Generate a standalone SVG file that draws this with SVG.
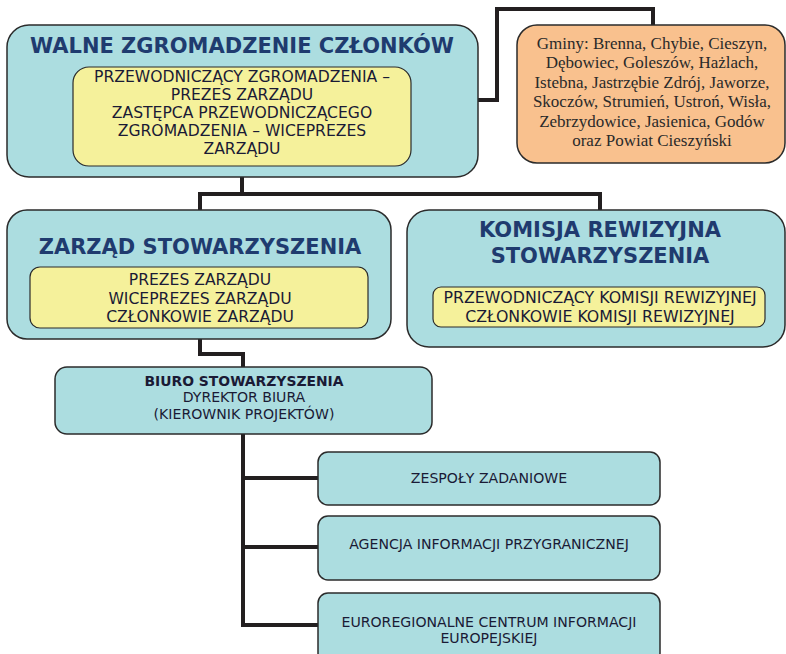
<svg xmlns="http://www.w3.org/2000/svg" width="786" height="654" viewBox="0 0 786 654">
<style>
.teal{fill:#acdde0;stroke:#2b2b2b;stroke-width:1.5}
.yel{fill:#f5f19b;stroke:#2b2b2b;stroke-width:1.2}
.org{fill:#f9c18e;stroke:#2b2b2b;stroke-width:1.5}
.title{font-family:"DejaVu Sans",Verdana,sans-serif;font-weight:bold;font-size:21px;fill:#1f3b6f;text-anchor:middle}
.t15{font-family:"DejaVu Sans",Verdana,sans-serif;font-size:15.6px;fill:#1a1a35;text-anchor:middle}
.t14{font-family:"DejaVu Sans",Verdana,sans-serif;font-size:15.8px;fill:#1a1a35;text-anchor:middle}
.t13{font-family:"DejaVu Sans",Verdana,sans-serif;font-size:14.1px;fill:#1a1a35;text-anchor:middle}
.b13{font-family:"DejaVu Sans",Verdana,sans-serif;font-size:13.9px;font-weight:bold;fill:#1a1a35;text-anchor:middle}
.serif{font-family:"Liberation Serif","Times New Roman",serif;font-size:17px;fill:#2a2a2a;text-anchor:middle}
.conn{fill:none;stroke:#231f20;stroke-width:4}
</style>
<rect width="786" height="654" fill="#ffffff"/>
<g id="connectors">
<polyline class="conn" points="478,100 497,100 497,9 653,9 653,25"/>
<polyline class="conn" points="242,177 242,194"/>
<polyline class="conn" points="200,210 200,194 600,194 600,210"/>
<polyline class="conn" points="200,339 200,354 243,354 243,367"/>
<polyline class="conn" points="243,434 243,625"/>
<polyline class="conn" points="243,478 318,478"/>
<polyline class="conn" points="243,547 318,547"/>
<polyline class="conn" points="241,625 318,625"/>
</g>
<g id="walne">
<rect class="teal" x="7" y="25" width="471" height="152" rx="22"/>
<text class="title" x="242" y="53">WALNE ZGROMADZENIE CZŁONKÓW</text>
<rect class="yel" x="73" y="67" width="338" height="99" rx="16"/>
<text class="t15" x="242" y="82">PRZEWODNICZĄCY ZGROMADZENIA –</text>
<text class="t15" x="242" y="100">PREZES ZARZĄDU</text>
<text class="t15" x="242" y="118">ZASTĘPCA PRZEWODNICZĄCEGO</text>
<text class="t15" x="242" y="136">ZGROMADZENIA – WICEPREZES</text>
<text class="t15" x="242" y="154">ZARZĄDU</text>
</g>
<g id="gminy">
<rect class="org" x="517" y="25" width="268" height="138" rx="20"/>
<text class="serif" x="652" y="49">Gminy: Brenna, Chybie, Cieszyn,</text>
<text class="serif" x="652" y="68">Dębowiec, Goleszów, Hażlach,</text>
<text class="serif" x="652" y="88">Istebna, Jastrzębie Zdrój, Jaworze,</text>
<text class="serif" x="652" y="107">Skoczów, Strumień, Ustroń, Wisła,</text>
<text class="serif" x="652" y="127">Zebrzydowice, Jasienica, Godów</text>
<text class="serif" x="652" y="146">oraz Powiat Cieszyński</text>
</g>
<g id="zarzad">
<rect class="teal" x="7" y="210" width="384" height="129" rx="20"/>
<text class="title" x="200" y="254">ZARZĄD STOWARZYSZENIA</text>
<rect class="yel" x="30" y="267" width="338" height="61" rx="10"/>
<text class="t15" x="200" y="285">PREZES ZARZĄDU</text>
<text class="t15" x="200" y="304">WICEPREZES ZARZĄDU</text>
<text class="t15" x="200" y="322">CZŁONKOWIE ZARZĄDU</text>
</g>
<g id="komisja">
<rect class="teal" x="407" y="210" width="378" height="137" rx="22"/>
<text class="title" x="600" y="237">KOMISJA REWIZYJNA</text>
<text class="title" x="600" y="263">STOWARZYSZENIA</text>
<rect class="yel" x="433" y="287" width="332" height="40" rx="8"/>
<text class="t14" x="600" y="303">PRZEWODNICZĄCY KOMISJI REWIZYJNEJ</text>
<text class="t14" x="600" y="322">CZŁONKOWIE KOMISJI REWIZYJNEJ</text>
</g>
<g id="biuro">
<rect class="teal" x="55" y="367" width="377" height="67" rx="12"/>
<text class="b13" x="244" y="386">BIURO STOWARZYSZENIA</text>
<text class="t13" x="244" y="402">DYREKTOR BIURA</text>
<text class="t13" x="244" y="419">(KIEROWNIK PROJEKTÓW)</text>
</g>
<g id="zespoly">
<rect class="teal" x="318" y="452" width="342" height="53" rx="10"/>
<text class="t13" x="489" y="483">ZESPOŁY ZADANIOWE</text>
</g>
<g id="agencja">
<rect class="teal" x="318" y="516" width="342" height="64" rx="10"/>
<text class="t13" x="489" y="549">AGENCJA INFORMACJI PRZYGRANICZNEJ</text>
</g>
<g id="euro">
<rect class="teal" x="318" y="593" width="342" height="70" rx="10"/>
<text class="t13" x="489" y="627">EUROREGIONALNE CENTRUM INFORMACJI</text>
<text class="t13" x="489" y="643">EUROPEJSKIEJ</text>
</g>
</svg>
